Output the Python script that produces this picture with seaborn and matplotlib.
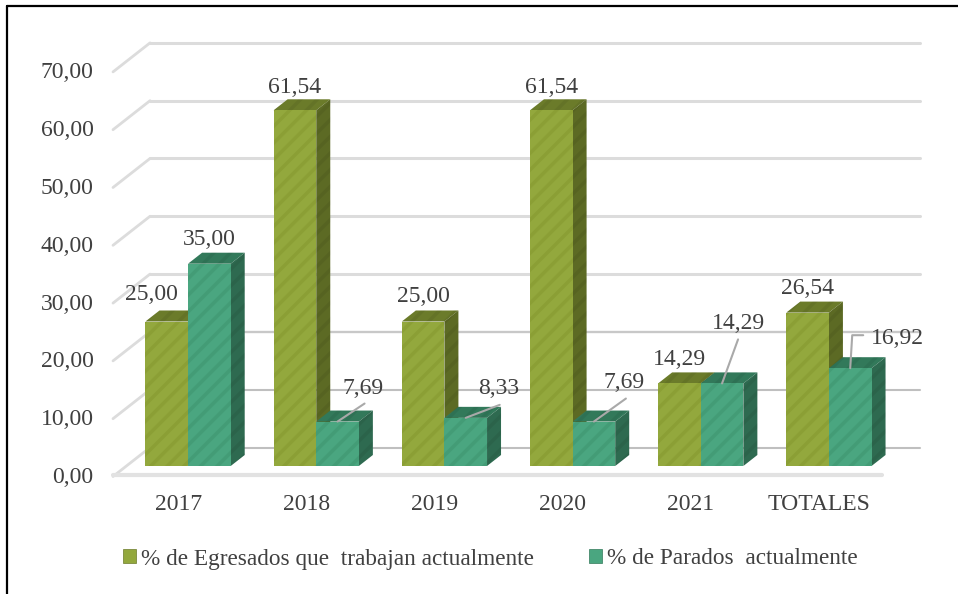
import matplotlib
matplotlib.use("Agg")
import matplotlib.pyplot as plt
import matplotlib.transforms as mtransforms
from matplotlib.lines import Line2D
from matplotlib.patches import Patch, Polygon
import pandas as pd
import seaborn as sns

categories = ["2017", "2018", "2019", "2020", "2021", "TOTALES"]
egresados = [25.00, 61.54, 25.00, 61.54, 14.29, 26.54]
parados = [35.00, 7.69, 8.33, 7.69, 14.29, 16.92]
series_names = ["% de Egresados que  trabajan actualmente", "% de Parados  actualmente"]
y_ticks = [0, 10, 20, 30, 40, 50, 60, 70]

W, H, DPI = 958, 594, 100
TEXT = "#404040"
FRONT = ["#93a83d", "#4aa680"]
STRIPE = ["#8b9f35", "#439c76"]
TOP = ["#6b7b2a", "#32795a"]
SIDE = ["#5c6a24", "#2e6a50"]

# axes box is the plane of the bar fronts, in pixels of the figure
LEFT, RIGHT, BASE = 124.0, 893.0, 466.0
PX_UNIT = 5.78
PX_CAT = (RIGHT - LEFT) / len(categories)
DEPTH_X, DEPTH_Y = 14, 11
FONT = 17

# label centre relative to the top middle of each bar, pixels
label_offsets = [
    [(-15, 27), (0, 23), (0, 25), (0, 23), (0, 24), (0, 24)],
    [(0, 24), (26, 33), (33, 29), (30, 39), (16, 60), (47, 30)],
]
leaders = {
    1: [(0, 0), (27, 18)],
    2: [(0, 0), (34, 13)],
    3: [(0, 0), (32, 23)],
    4: [(0, 0), (16, 44)],
    5: [(0, 0), (2, 33), (13, 33)],
}
grid_styles = {0: ("#bfbfbf", 1.5), 10: ("#bfbfbf", 1.5), 20: ("#c8c8c8", 1.7)}

sns.set_theme(style="white")
plt.rcParams["font.family"] = ["Liberation Serif", "DejaVu Serif"]
plt.rcParams["hatch.linewidth"] = 2.5

fig = plt.figure(figsize=(W / DPI, H / DPI), dpi=DPI)
top_px = BASE - max(y_ticks) * PX_UNIT
ax = fig.add_axes([LEFT / W, 1 - BASE / H, (RIGHT - LEFT) / W, (BASE - top_px) / H])

df = pd.DataFrame(
    {
        "cat": categories * 2,
        "serie": [series_names[0]] * 6 + [series_names[1]] * 6,
        "valor": egresados + parados,
    }
)
sns.barplot(
    data=df,
    x="cat",
    y="valor",
    hue="serie",
    palette=FRONT,
    width=0.665,
    gap=0,
    saturation=1,
    legend=False,
    ax=ax,
)
ax.set_xlim(-0.5, len(categories) - 0.5)
ax.set_ylim(0, max(y_ticks))
ax.set_xlabel("")
ax.set_ylabel("")
sns.despine(ax=ax, left=True, bottom=True)


def px_x(n):
    return n / PX_CAT


def px_y(n):
    return n / PX_UNIT


# wall and floor
for val in y_ticks:
    color, lw = grid_styles.get(val, ("#dcdcdc", 2.2))
    x0 = ax.get_xlim()[0]
    x1 = ax.get_xlim()[1]
    ys = [val + px_y(-10.5), val + px_y(18.5), val + px_y(18.5)]
    xs = [x0 + px_x(-11), x0 + px_x(26), x1 + px_x(27)]
    ax.plot(xs[:2], ys[:2], color="#dcdcdc", lw=2.0, zorder=1, clip_on=False,
            solid_capstyle="round")
    ax.plot(xs[1:], ys[1:], color=color, lw=lw, zorder=1, clip_on=False,
            solid_capstyle="round")
ax.plot(
    [ax.get_xlim()[0] + px_x(-11), ax.get_xlim()[1] + px_x(-11)],
    [px_y(-9), px_y(-9)],
    color="#e2e2e2",
    lw=3,
    zorder=1,
    clip_on=False,
)

# 3D faces of every bar, then labels
for s, container in enumerate(ax.containers):
    for c, bar in enumerate(container):
        x, w, h = bar.get_x(), bar.get_width(), bar.get_height()
        dx, dy = px_x(DEPTH_X), px_y(DEPTH_Y)
        bar.set_edgecolor(STRIPE[s])
        bar.set_hatch("//")
        bar.set_linewidth(0)
        bar.set_zorder(4)
        top = [(x, h), (x + w, h), (x + w + dx, h + dy), (x + dx, h + dy)]
        side = [(x + w, 0), (x + w + dx, dy), (x + w + dx, h + dy), (x + w, h)]
        z = 2 + s * 0.5
        ax.add_patch(Polygon(top, facecolor=TOP[s], edgecolor="#00000010", hatch="//",
                             lw=0, zorder=z, clip_on=False))
        ax.add_patch(Polygon(side, facecolor=SIDE[s], edgecolor="#00000010", hatch="//",
                             lw=0, zorder=z, clip_on=False))

        xm = x + w / 2
        off = label_offsets[s][c]
        ax.annotate(
            f"{h:.2f}".replace(".", ","),
            xy=(xm, h),
            xytext=off,
            textcoords="offset pixels",
            ha="center",
            va="center",
            fontsize=FONT,
            color=TEXT,
            zorder=7,
            annotation_clip=False,
        )
        if s == 1 and c in leaders:
            pts = leaders[c]
            ax.plot(
                [xm + px_x(p[0]) for p in pts],
                [h + px_y(p[1]) for p in pts],
                color="#a9a9a9",
                lw=1.5,
                zorder=6,
                clip_on=False,
            )

ax.set_yticks(y_ticks)
ax.set_yticklabels([f"{v:.2f}".replace(".", ",") for v in y_ticks])
ax.tick_params(axis="y", length=0, pad=22, labelsize=FONT, labelcolor=TEXT)
ax.tick_params(axis="x", length=0, pad=20, labelsize=FONT, labelcolor=TEXT)
shift_y = mtransforms.ScaledTranslation(0, -9 / DPI, fig.dpi_scale_trans)
shift_x = mtransforms.ScaledTranslation(-10 / DPI, 0, fig.dpi_scale_trans)
for lab in ax.get_yticklabels():
    lab.set_transform(lab.get_transform() + shift_y)
for lab in ax.get_xticklabels():
    lab.set_transform(lab.get_transform() + shift_x)

handles = [
    Patch(facecolor=FRONT[i], edgecolor=TOP[i], lw=0.5, label=series_names[i])
    for i in range(2)
]
fig.legend(
    handles=handles,
    ncol=2,
    loc="center left",
    bbox_to_anchor=(123 / W, 1 - 559 / H),
    frameon=False,
    fontsize=16.75,
    labelcolor=TEXT,
    handlelength=0.56,
    handleheight=0.56,
    handletextpad=0.2,
    columnspacing=2.4,
    borderpad=0,
    borderaxespad=0,
)

# outer frame, only left and top fall inside the image
fig.add_artist(Line2D([7 / W, 7 / W], [0, 1 - 6 / H], color="black", lw=1.6))
fig.add_artist(Line2D([7 / W, 1], [1 - 6 / H, 1 - 6 / H], color="black", lw=1.6))

fig.savefig("out.png", dpi=DPI)
